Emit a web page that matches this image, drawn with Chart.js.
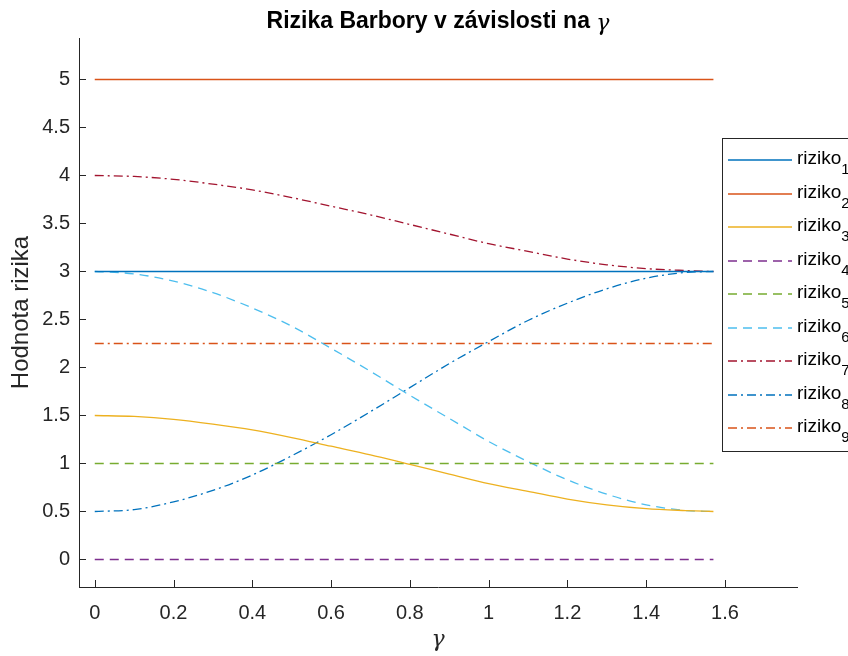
<!DOCTYPE html>
<html>
<head>
<meta charset="utf-8">
<script src="https://cdn.jsdelivr.net/npm/chart.js@4/dist/chart.umd.min.js"></script>
<style>
  body { margin: 0; background: #fff; }
  #wrap { width: 848px; height: 656px; position: relative; }
</style>
</head>
<body>
<div id="wrap"><canvas id="c"></canvas></div>
<script>
// gamma samples and the risk values
const gamma = [0, 0.1, 0.2, 0.3, 0.4, 0.5, 0.6, 0.7, 0.8, 0.9, 1.0, 1.1, 1.2, 1.3, 1.4, 1.5, 1.5708];
const riziko1 = [3, 3, 3, 3, 3, 3, 3, 3, 3, 3, 3, 3, 3, 3, 3, 3, 3];
const riziko2 = [5, 5, 5, 5, 5, 5, 5, 5, 5, 5, 5, 5, 5, 5, 5, 5, 5];
const riziko3 = [1.5, 1.49, 1.46, 1.41, 1.35, 1.27, 1.18, 1.09, 0.99, 0.89, 0.79, 0.71, 0.63, 0.57, 0.53, 0.51, 0.5];
const riziko4 = [0, 0, 0, 0, 0, 0, 0, 0, 0, 0, 0, 0, 0, 0, 0, 0, 0];
const riziko5 = [1, 1, 1, 1, 1, 1, 1, 1, 1, 1, 1, 1, 1, 1, 1, 1, 1];
const riziko6 = [3.0, 2.975, 2.9, 2.78, 2.62, 2.43, 2.2, 1.96, 1.71, 1.47, 1.23, 1.02, 0.83, 0.68, 0.57, 0.51, 0.5];
const riziko7 = [4.0, 3.99, 3.96, 3.91, 3.85, 3.77, 3.68, 3.59, 3.49, 3.39, 3.29, 3.21, 3.13, 3.07, 3.03, 3.01, 3.0];
const riziko8 = [0.5, 0.52, 0.6, 0.72, 0.88, 1.08, 1.3, 1.54, 1.79, 2.04, 2.27, 2.49, 2.67, 2.82, 2.93, 2.99, 3.0];
const riziko9 = [2.25, 2.25, 2.25, 2.25, 2.25, 2.25, 2.25, 2.25, 2.25, 2.25, 2.25, 2.25, 2.25, 2.25, 2.25, 2.25, 2.25];

const xTicks = [0, 0.2, 0.4, 0.6, 0.8, 1, 1.2, 1.4, 1.6];
const yTicks = [0, 0.5, 1, 1.5, 2, 2.5, 3, 3.5, 4, 4.5, 5];

const series = [riziko1, riziko2, riziko3, riziko4, riziko5, riziko6, riziko7, riziko8, riziko9];
const colors = ['#0072BD', '#D95319', '#EDB120', '#7E2F8E', '#77AC30', '#4DBEEE', '#A2142F', '#0072BD', '#D95319'];
const DASH = [9, 6];
const DASHDOT = [9, 4, 2, 4];
const dashes = [[], [], [], DASH, DASH, DASH, DASHDOT, DASHDOT, DASHDOT];
const LW = 1.3;

const datasets = series.map((vals, i) => ({
  label: 'riziko' + (i + 1),
  data: gamma.map((g, k) => ({ x: g, y: vals[k] })),
  borderColor: colors[i],
  borderWidth: LW,
  borderDash: dashes[i],
  pointRadius: 0,
  fill: false,
  cubicInterpolationMode: 'monotone'
}));

const axisColor = '#262626';
const sans = '"Liberation Sans", Arial, sans-serif';

// inward ticks, title, axis labels and the legend with subscripts
const decor = {
  id: 'decor',
  afterDraw(chart) {
    const ctx = chart.ctx;
    const a = chart.chartArea;
    const xs = chart.scales.x, ys = chart.scales.y;
    ctx.save();
    ctx.strokeStyle = axisColor;
    ctx.lineWidth = 1;
    ctx.beginPath();
    xTicks.forEach(t => {
      const px = Math.round(xs.getPixelForValue(t)) + 0.5;
      ctx.moveTo(px, a.bottom);
      ctx.lineTo(px, a.bottom - 7);
    });
    yTicks.forEach(t => {
      const py = Math.floor(ys.getPixelForValue(t)) + 0.5;
      ctx.moveTo(a.left, py);
      ctx.lineTo(a.left + 7, py);
    });
    ctx.stroke();

    // title
    ctx.fillStyle = '#000';
    ctx.textBaseline = 'middle';
    const tMain = 'Rizika Barbory v závislosti na ';
    ctx.font = 'bold 23px ' + sans;
    const w1 = ctx.measureText(tMain).width;
    ctx.font = 'italic 22px "DejaVu Serif", serif';
    const w2 = ctx.measureText('γ').width;
    let tx = (a.left + a.right) / 2 - (w1 + w2) / 2;
    ctx.textAlign = 'left';
    ctx.font = 'bold 23px ' + sans;
    ctx.fillText(tMain, tx, 22);
    ctx.font = 'italic 22px "DejaVu Serif", serif';
    ctx.fillText('γ', tx + w1, 24);

    // x label
    ctx.fillStyle = axisColor;
    ctx.textAlign = 'center';
    ctx.font = 'italic 22px "DejaVu Serif", serif';
    ctx.fillText('γ', (a.left + a.right) / 2, 640);

    // y label
    ctx.save();
    ctx.translate(21, (a.top + a.bottom) / 2);
    ctx.rotate(-Math.PI / 2);
    ctx.font = '24px ' + sans;
    ctx.fillText('Hodnota rizika', 0, 0);
    ctx.restore();

    // legend
    const lx = 722.5, ly = 138.5, lh = 313;
    ctx.fillStyle = '#fff';
    ctx.fillRect(lx, ly, 140, lh);
    ctx.strokeStyle = axisColor;
    ctx.lineWidth = 1;
    ctx.setLineDash([]);
    ctx.strokeRect(lx, ly, 140, lh);
    chart.data.datasets.forEach((ds, i) => {
      const y = Math.round(160 + i * 33.5);
      ctx.strokeStyle = ds.borderColor;
      ctx.lineWidth = LW;
      ctx.setLineDash(ds.borderDash);
      ctx.beginPath();
      ctx.moveTo(728, y);
      ctx.lineTo(792, y);
      ctx.stroke();
      ctx.setLineDash([]);
      ctx.fillStyle = '#000';
      ctx.textAlign = 'left';
      ctx.font = '19px ' + sans;
      ctx.fillText('riziko', 797, y - 1);
      const ww = ctx.measureText('riziko').width;
      ctx.font = '15px ' + sans;
      ctx.fillText(String(i + 1), 797 + ww, y + 10);
    });
    ctx.restore();
  }
};

new Chart(document.getElementById('c'), {
  type: 'line',
  data: { datasets: datasets },
  options: {
    responsive: true,
    maintainAspectRatio: false,
    animation: false,
    layout: { padding: { top: 38, right: 51, left: 0, bottom: 0 } },
    plugins: { legend: { display: false }, tooltip: { enabled: false } },
    scales: {
      x: {
        type: 'linear',
        min: -0.04,
        max: 1.783,
        afterFit: s => { s.height = 69; },
        afterBuildTicks: s => { s.ticks = xTicks.map(v => ({ value: v })); },
        grid: { display: false, drawTicks: false },
        border: { display: true, color: axisColor, width: 1 },
        ticks: { color: axisColor, padding: 14, maxRotation: 0, font: { family: sans, size: 20 }, callback: v => String(v) }
      },
      y: {
        type: 'linear',
        min: -0.2865,
        max: 5.4323,
        afterFit: s => { s.width = 79; },
        afterBuildTicks: s => { s.ticks = yTicks.map(v => ({ value: v })); },
        grid: { display: false, drawTicks: false },
        border: { display: true, color: axisColor, width: 1 },
        ticks: { color: axisColor, padding: 9, font: { family: sans, size: 20 }, callback: v => String(v) }
      }
    }
  },
  plugins: [decor]
});
</script>
</body>
</html>
